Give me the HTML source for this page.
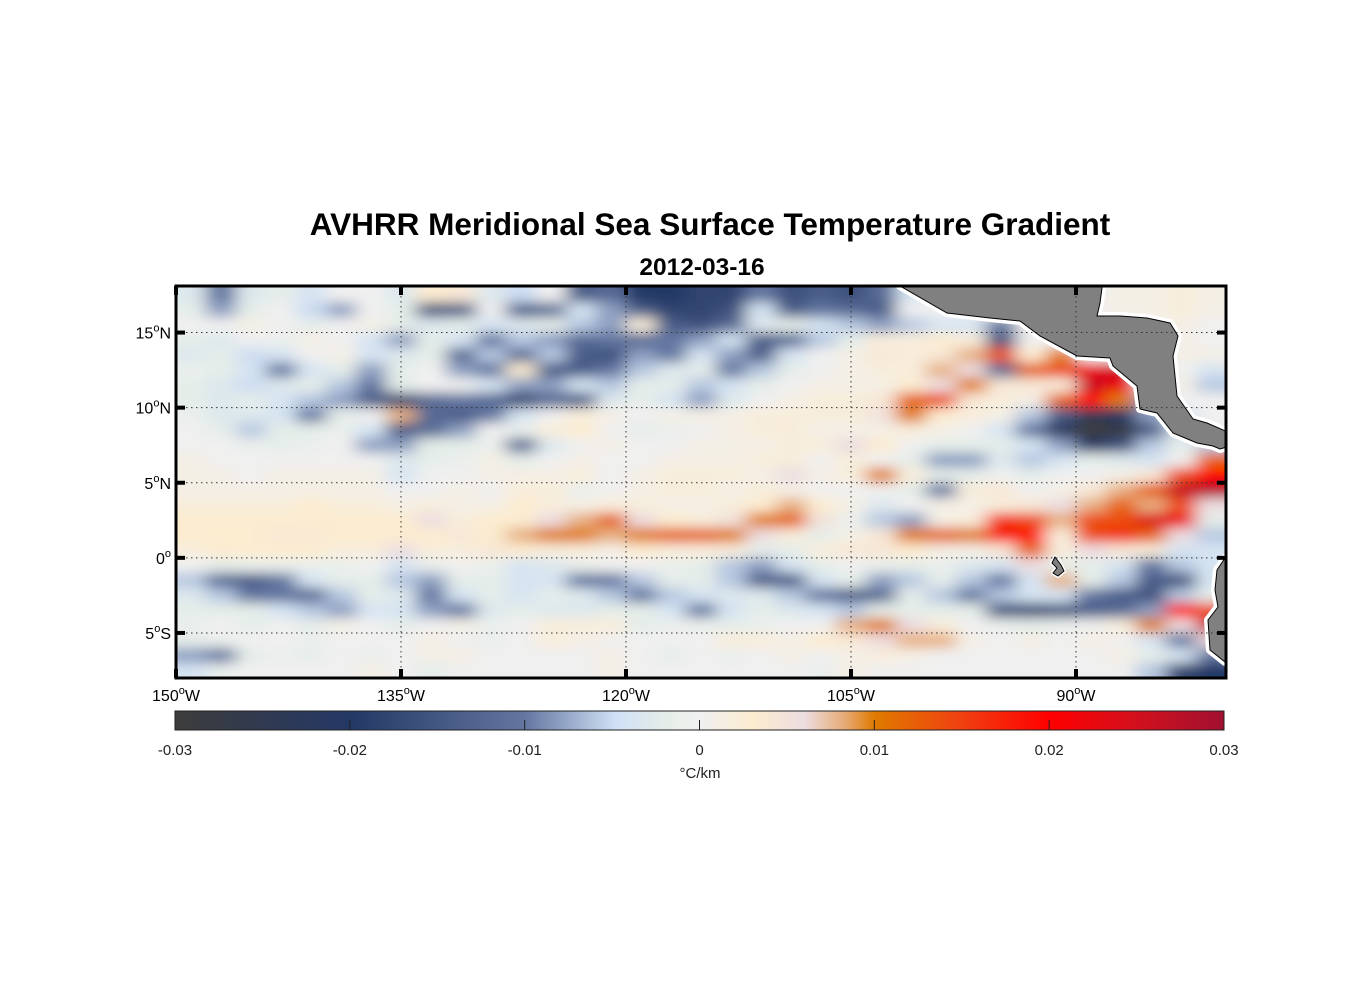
<!DOCTYPE html>
<html><head><meta charset="utf-8"><title>AVHRR Meridional SST Gradient</title>
<style>
html,body{margin:0;padding:0;background:#fff;}
svg{display:block;font-family:"Liberation Sans",Arial,sans-serif;}
</style></head>
<body>
<svg id="chart" width="1356" height="1000" viewBox="0 0 1356 1000" xmlns="http://www.w3.org/2000/svg">
<defs>
<filter id="smooth" x="-5%" y="-5%" width="110%" height="110%"><feGaussianBlur stdDeviation="9,6"/></filter>
<clipPath id="frameClip"><rect x="176" y="286" width="1050" height="392"/></clipPath>
<linearGradient id="cbGrad" x1="0" x2="1" y1="0" y2="0">
<stop offset="0" stop-color="#3c3c3c"/><stop offset="0.167" stop-color="#243865"/>
<stop offset="0.333" stop-color="#6276a0"/><stop offset="0.42" stop-color="#d0e0f5"/>
<stop offset="0.47" stop-color="#e6eee8"/><stop offset="0.5" stop-color="#f0f0f0"/>
<stop offset="0.55" stop-color="#fcecd0"/><stop offset="0.6" stop-color="#ecdde0"/>
<stop offset="0.64" stop-color="#e6a870"/><stop offset="0.667" stop-color="#e07a00"/>
<stop offset="0.75" stop-color="#f04010"/><stop offset="0.833" stop-color="#ff0000"/>
<stop offset="0.92" stop-color="#d0101e"/><stop offset="1" stop-color="#a01030"/>
</linearGradient>
</defs>
<text x="710" y="235" text-anchor="middle" font-size="31.5" font-weight="bold">AVHRR Meridional Sea Surface Temperature Gradient</text>
<text x="702" y="275" text-anchor="middle" font-size="24.5" font-weight="bold">2012-03-16</text>
<rect x="176" y="286" width="1050" height="392" fill="#f0f0ee"/>
<g clip-path="url(#frameClip)">
<g id="cells" filter="url(#smooth)"></g>
<g id="land"></g>
<g id="grid"></g>
</g>
<rect x="176" y="286" width="1050" height="392" fill="none" stroke="#000" stroke-width="3"/>
<g id="ticks"></g>
<g id="cbar"></g>
</svg>
<script>
// grid: lon from -150 to -80 (2 deg cols), lat from 18 to -8 (1 deg rows); values in 0.001 °C/km
const lonStart = -150, lonStep = 2, latStart = 18, latStep = 1;
const row00 = [-3,-10,-3,-2,-4,0,0,-3,3,4,-3,-5,0,-14,-12,-20,-20,-18,-18,-10,-16,-14,-16,-12,-4,0,0,0,0,0,0,1,1,2,1];
const row01 = [-2,-8,-2,0,-5,-8,0,-2,-16,-14,0,-14,-12,-4,-8,-14,-18,-18,-16,-4,-14,-10,-12,-14,0,0,0,0,0,0,0,1,1,2,1];
const row02 = [0,0,1,0,-2,0,1,-2,-3,-2,-4,-3,-2,-6,-8,2,-14,-16,-12,-3,-2,-4,-6,-8,-6,-4,-4,-10,0,0,0,0,1,1,0];
const row03 = [-2,-3,0,-1,1,0,-4,-8,-2,-4,-10,-6,-8,-12,-10,-12,-10,-8,-4,-14,-12,-6,-2,2,2,3,2,-16,0,0,0,0,0,1,0];
const row04 = [-3,-2,-5,-4,0,1,-4,-3,-2,-12,-6,-12,-6,-14,-16,-8,-10,-4,-8,-14,-4,0,1,4,2,4,8,14,3,10,0,0,0,1,1];
const row05 = [-1,-2,-4,-10,-4,-2,-8,-2,0,-8,-10,3,-14,-14,-10,-6,-3,-2,-10,-6,-2,0,1,2,2,8,6,-12,12,14,22,26,0,0,-4];
const row06 = [-2,-3,-5,-3,-2,-6,-10,-2,0,0,-4,-8,-8,-4,-6,-2,-2,-6,-4,-2,0,1,1,1,3,6,10,4,4,2,26,22,0,1,-6];
const row07 = [-2,-3,-2,-4,-6,-8,-14,-18,-12,-10,-12,-18,-12,-14,-3,-2,-4,-8,-3,0,1,2,2,4,12,14,4,2,1,12,20,10,-8,0,0];
const row08 = [-1,-3,-3,-4,-10,-2,0,8,-12,-14,-10,-4,0,2,1,0,1,1,1,2,2,2,2,5,10,3,2,1,-6,-14,-24,-20,-8,-4,0];
const row09 = [0,-2,-6,-2,-2,-1,-4,-14,-12,-8,0,-1,2,3,0,-2,-1,0,1,2,2,1,1,1,2,1,0,-4,-10,-22,-30,-28,-14,-4,0];
const row10 = [0,0,-1,-2,-1,0,-8,-8,-2,-2,-1,-12,-3,0,1,0,0,1,1,1,2,2,6,3,0,-2,-2,-2,-4,-8,-20,-16,-6,-2,-6];
const row11 = [1,0,0,0,0,0,0,-3,-2,-1,1,-2,0,1,0,0,1,1,1,2,2,0,2,0,-2,-8,-8,-3,-6,-4,-2,-3,-4,0,12];
const row12 = [1,1,0,1,1,1,1,-4,0,0,1,1,1,2,0,1,2,2,2,1,6,1,2,10,2,-2,-2,0,-2,0,0,1,4,14,20];
const row13 = [1,1,1,1,1,1,1,0,0,1,0,2,2,-1,0,1,2,2,1,2,1,0,0,0,-2,-10,2,4,0,1,4,8,12,26,28];
const row14 = [2,2,2,2,3,2,2,1,2,1,1,3,2,1,2,2,1,1,2,3,8,3,1,-3,0,1,1,2,4,6,8,12,8,14,6];
const row15 = [3,3,3,3,3,3,3,3,6,2,3,3,6,8,12,6,3,2,5,10,12,5,-1,-6,-8,1,2,16,14,8,14,14,24,22,-2];
const row16 = [3,3,3,4,4,3,3,3,3,4,3,8,10,10,8,10,12,12,10,6,2,-2,1,4,10,12,10,18,20,2,14,16,12,6,-6];
const row17 = [2,3,3,3,3,2,2,6,2,2,4,3,2,2,1,3,2,2,2,-2,-2,2,4,4,3,1,1,4,12,2,6,4,2,-4,-4];
const row18 = [0,-2,-1,-1,-1,-1,0,-4,-1,0,-1,-4,-3,-1,0,0,-1,-2,-6,-8,-4,-2,0,-1,-2,-1,-3,-4,6,-2,-2,-4,-10,-6,-4];
const row19 = [-6,-12,-14,-10,-4,-2,-2,-6,-8,-2,-2,-4,-4,-10,-10,-6,-2,-2,-6,-14,-14,-4,-2,-8,-6,-2,-6,-10,-4,8,-2,-6,-14,-16,-4];
const row20 = [-3,-6,-10,-10,-12,-6,-2,-3,-10,-4,-2,-4,-2,-3,-6,-10,-6,-4,-3,-3,-6,-10,-14,-12,-2,-6,-10,-6,-4,-4,-10,-14,-16,-6,-2];
const row21 = [-2,-2,-2,-4,-6,-8,-4,-4,-8,-10,-3,-2,-3,-3,-2,-2,-4,-10,-4,-2,-3,-4,-6,-2,-2,-2,-2,-16,-18,-16,-14,-12,-8,20,14];
const row22 = [-1,0,-2,0,-2,1,0,-2,0,1,-1,0,2,2,2,-2,-1,-1,-2,-1,0,0,8,10,6,2,0,-1,-2,-1,0,2,10,6,26];
const row23 = [-2,-1,0,0,-1,0,0,0,1,0,-1,0,2,1,0,0,0,0,2,2,1,3,4,6,8,8,1,0,1,0,1,0,-4,-10,6];
const row24 = [-8,-10,-2,-1,-2,0,-1,0,1,1,0,0,0,0,1,0,-2,0,-1,0,1,0,1,2,1,0,0,0,0,0,0,1,-2,-4,-10];
const row25 = [-4,-1,0,0,0,0,1,0,-2,0,0,0,0,0,1,0,0,0,0,0,0,-1,1,0,0,0,0,0,0,0,0,0,-6,-18,-20];
const gridRows = [row00,row01,row02,row03,row04,row05,row06,row07,row08,row09,row10,row11,row12,row13,row14,row15,row16,row17,row18,row19,row20,row21,row22,row23,row24,row25];
const lonTicks = [-150,-135,-120,-105,-90];
const lonTickLabels = ["150","135","120","105","90"];
const latTicks = [15,10,5,0,-5];
const latTickLabels = ["15","10","5","0","5"];
const latTickHemi = ["N","N","N","",  "S"];
const cbTicks = [-0.03,-0.02,-0.01,0,0.01,0.02,0.03];
const cbTickLabels = ["-0.03","-0.02","-0.01","0","0.01","0.02","0.03"];

const NS = "http://www.w3.org/2000/svg";
const X0=176, X1=1226, Y0=286, Y1=678;
const LON0=-150, LON1=-80, LAT0=18.1, LAT1=-8.0;
function xScale(lon){return X0+(lon-LON0)/(LON1-LON0)*(X1-X0);}
function yScale(lat){return Y0+(LAT0-lat)/(LAT0-LAT1)*(Y1-Y0);}
const CB0=175, CB1=1224, CBY=711, CBH=19, VMIN=-0.03, VMAX=0.03;
function cbScale(v){return CB0+(v-VMIN)/(VMAX-VMIN)*(CB1-CB0);}
const stops=[[0,"#3c3c3c"],[0.167,"#243865"],[0.333,"#6276a0"],[0.42,"#d0e0f5"],[0.47,"#e6eee8"],[0.5,"#f0f0f0"],[0.55,"#fcecd0"],[0.6,"#ecdde0"],[0.64,"#e6a870"],[0.667,"#e07a00"],[0.75,"#f04010"],[0.833,"#ff0000"],[0.92,"#d0101e"],[1,"#a01030"]];
function hex(h){return [parseInt(h.substr(1,2),16),parseInt(h.substr(3,2),16),parseInt(h.substr(5,2),16)];}
function cmap(v){
  let t=(v-VMIN)/(VMAX-VMIN); t=Math.max(0,Math.min(1,t));
  for(let i=1;i<stops.length;i++){
    if(t<=stops[i][0]){
      const a=stops[i-1],b=stops[i],f=(t-a[0])/(b[0]-a[0]);
      const ca=hex(a[1]),cb=hex(b[1]);
      return "rgb("+ca.map((c,k)=>Math.round(c+(cb[k]-c)*f)).join(",")+")";
    }
  }
  return stops[stops.length-1][1];
}
function mk(tag,attrs,parent){const e=document.createElementNS(NS,tag);for(const k in attrs)e.setAttribute(k,attrs[k]);parent.appendChild(e);return e;}

// heatmap cells
const cells=document.getElementById('cells');
gridRows.forEach((row,j)=>{
  row.forEach((val,i)=>{
    const lonA=lonStart+i*lonStep, lonB=lonA+lonStep;
    const latA=latStart-j*latStep, latB=latA-latStep;
    let xa=xScale(lonA), xb=xScale(lonB), ya=yScale(latA), yb=yScale(latB);
    if(i===0) xa-=25; if(i===row.length-1) xb+=25;
    if(j===0) ya-=25; if(j===gridRows.length-1) yb+=25;
    const r=mk('rect',{x:xa.toFixed(1),y:ya.toFixed(1),width:(xb-xa+0.6).toFixed(1),height:(yb-ya+0.6).toFixed(1),fill:cmap(val/1000)},cells);
    
    
  });
});

// land
const land=document.getElementById('land');
const centralAmerica="M900,280 L900,286 L947,313 L990,318 L1020,321 L1040,336 L1077,356 L1110,358 L1113,366 L1137,386 L1140,409 L1157,413 L1173,433 L1197,443 L1213,446 L1220,449 L1230,446 L1230,433 L1207,423 L1193,419 L1177,396 L1173,356 L1178,336 L1170,323 L1147,318 L1120,316 L1097,316 L1100,303 L1103,280 Z";
const southAmerica="M1230,556 L1225,558 L1217,570 L1215,590 L1218,607 L1208,620 L1210,650 L1225,662 L1230,662 Z";
const galapagos="M1055,557 L1061,565 L1064,571 L1058,576 L1053,573 L1057,568 L1052,563 Z";
[[centralAmerica,'central-america-land',8],[southAmerica,'south-america-land',8],[galapagos,'galapagos-land',4]].forEach(([d,n,w])=>{
  const h=mk('path',{d:d,fill:'#fff',stroke:'#fff','stroke-width':w,'stroke-linejoin':'round'},land);
  
  
  const p=mk('path',{d:d,fill:'#808080',stroke:'#000','stroke-width':1},land);
  
  
});

// graticule
const grid=document.getElementById('grid');
lonTicks.slice(1).forEach(lon=>{
  const l=mk('line',{x1:xScale(lon),x2:xScale(lon),y1:Y0,y2:Y1,stroke:'#333','stroke-width':1,'stroke-dasharray':'1.5,3.5'},grid);
  
  
});
latTicks.forEach(lat=>{
  const l=mk('line',{x1:X0,x2:X1,y1:yScale(lat),y2:yScale(lat),stroke:'#333','stroke-width':1,'stroke-dasharray':'1.5,3.5'},grid);
  
  
});

// ticks & labels
const ticks=document.getElementById('ticks');
lonTicks.forEach((lon,k)=>{
  const x=xScale(lon);
  [[Y0,Y0+9],[Y1-9,Y1]].forEach(([a,b])=>{
    const t=mk('line',{x1:x,x2:x,y1:a,y2:b,stroke:'#000','stroke-width':4},ticks);
    
    
  });
  const tx=mk('text',{x:x,y:701,'text-anchor':'middle','font-size':16},ticks);
  
  
  tx.innerHTML=lonTickLabels[k]+'<tspan dy="-7" font-size="11">o</tspan><tspan dy="7">W</tspan>';
});
latTicks.forEach((lat,k)=>{
  const y=yScale(lat);
  [[X0,X0+9],[X1-9,X1]].forEach(([a,b])=>{
    const t=mk('line',{x1:a,x2:b,y1:y,y2:y,stroke:'#000','stroke-width':4},ticks);
    
    
  });
  const tx=mk('text',{x:171,y:y+6,'text-anchor':'end','font-size':16},ticks);
  
  
  tx.innerHTML=latTickLabels[k]+'<tspan dy="-7" font-size="11">o</tspan><tspan dy="7">'+latTickHemi[k]+'</tspan>';
});

// colorbar
const cbar=document.getElementById('cbar');
const cbr=mk('rect',{x:CB0,y:CBY,width:CB1-CB0,height:CBH,fill:'url(#cbGrad)',stroke:'#222','stroke-width':1},cbar);


cbTicks.forEach((v,k)=>{
  const x=cbScale(v);
  if(k>0&&k<cbTicks.length-1){
    const t=mk('line',{x1:x,x2:x,y1:CBY+CBH-10,y2:CBY+CBH,stroke:'#222','stroke-width':1},cbar);
    
    
  }
  const tx=mk('text',{x:x,y:755,'text-anchor':'middle','font-size':15,fill:'#222'},cbar);
  
  
  tx.textContent=cbTickLabels[k];
});
const unit=mk('text',{x:700,y:778,'text-anchor':'middle','font-size':15,fill:'#222'},cbar);


unit.textContent='°C/km';
</script>
</body></html>
